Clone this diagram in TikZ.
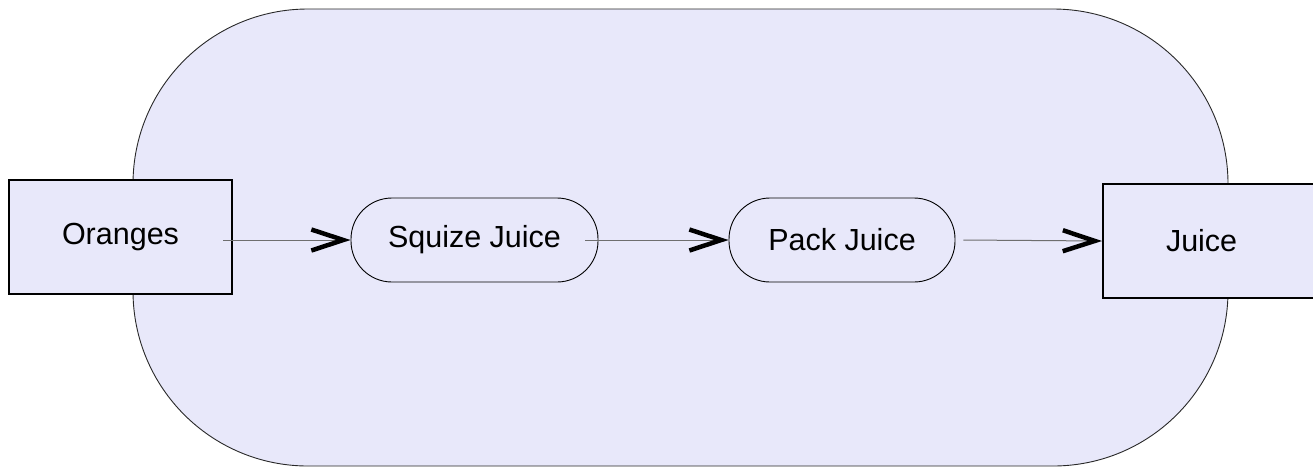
\documentclass[tikz,border=0pt]{standalone}
\usepackage{fontspec}
\setmainfont{Liberation Sans}
\usetikzlibrary{arrows.meta}
\definecolor{areafill}{RGB}{232,232,250}
\definecolor{areaedge}{RGB}{40,40,40}
\definecolor{flowline}{RGB}{110,110,110}
\tikzset{
  store/.style={draw=black, line width=2pt, fill=areafill, rectangle,
    font=\fontsize{30.5}{36}\selectfont},
  activity/.style={draw=black, line width=0.9pt, fill=areafill, rectangle,
    rounded corners=41pt, minimum width=247pt, minimum height=84pt,
    font=\fontsize{30.5}{36}\selectfont},
  flow/.style={draw=flowline, line width=1pt,
    -{Straight Barb[length=32pt, width=21pt, line width=4.5pt, color=black]}},
}
\begin{document}
\begin{tikzpicture}[x=1pt, y=-1pt]
  \useasboundingbox (0,0) rectangle (1313,467);
  \clip (0,0) rectangle (1313,467);

  % enclosing process area
  \draw[areaedge, line width=0.9pt, fill=areafill, rounded corners=175pt]
    (133,9) rectangle (1228,466);

  % input and output stores
  \node[store, minimum width=223pt, minimum height=114pt] (oranges)
    at (120.5,237) {Oranges};
  \node[store, anchor=west, align=left, inner xsep=63pt, text width=200pt,
    minimum height=114pt] (juice) at (1102,241) {Juice};

  % activities
  \node[activity] (squize) at (474.5,240) {Squize Juice};
  \node[activity, minimum width=226pt] (pack) at (842,240) {Pack Juice};

  % flows
  \draw[flow] ([xshift=-10pt]oranges.east |- squize.west) -- (squize.west);
  \draw[flow] ([xshift=-13pt]squize.east) -- (pack.west);
  \draw[flow] ([xshift=8pt]pack.east) -- (juice.west);
\end{tikzpicture}
\end{document}
